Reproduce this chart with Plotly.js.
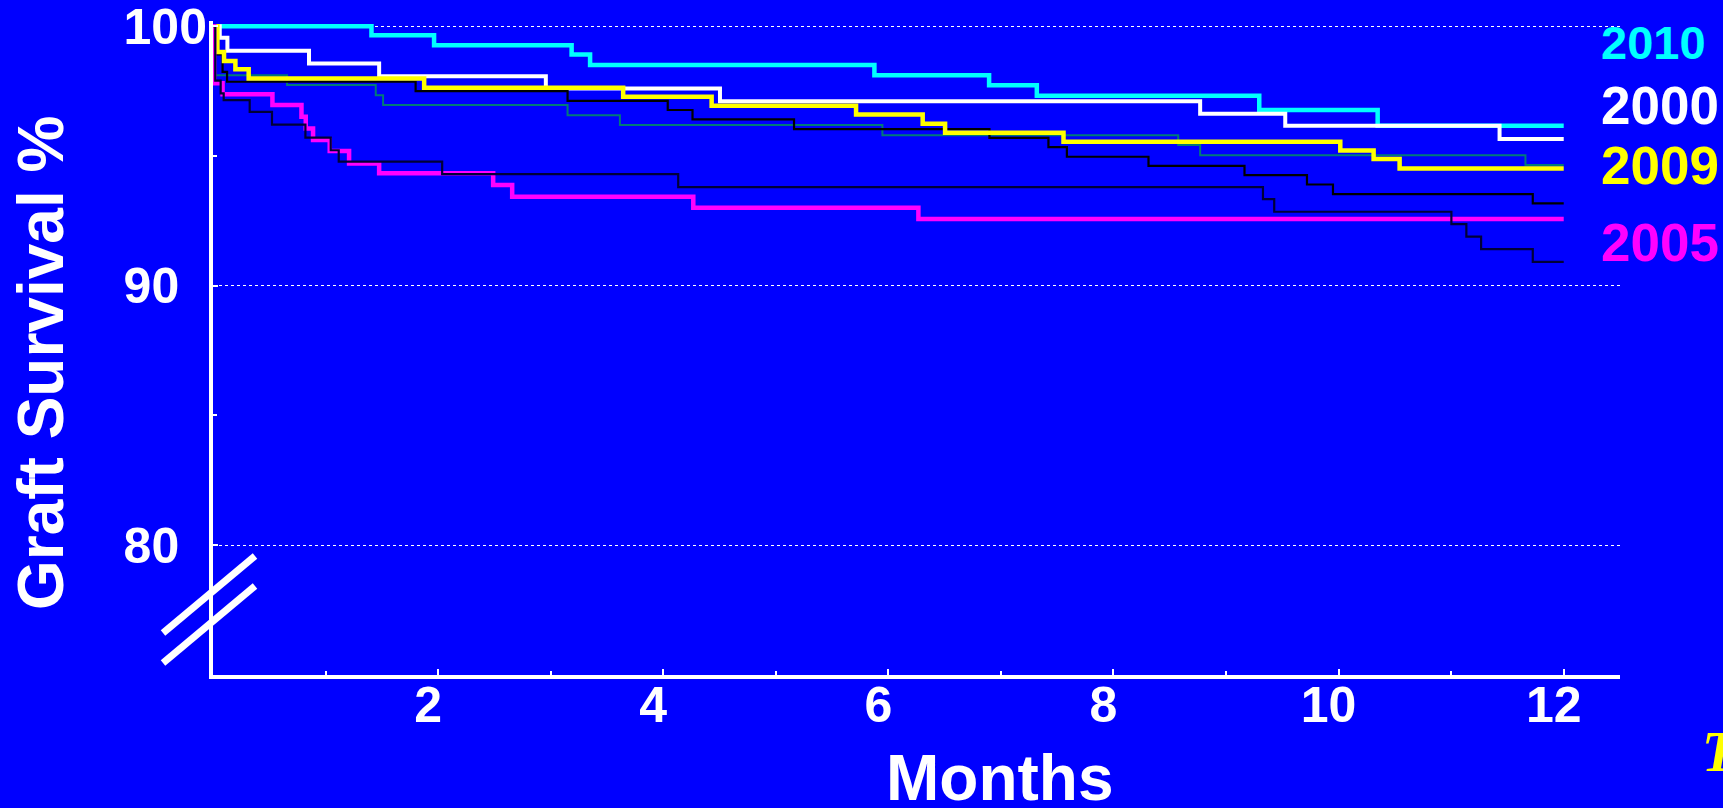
<!DOCTYPE html>
<html>
<head>
<meta charset="utf-8">
<script src="https://cdn.plot.ly/plotly-3.0.1.min.js"></script>
<style>
  html, body { margin: 0; padding: 0; background: #0000FF; }
  #chart { width: 1723px; height: 808px; }
</style>
</head>
<body>
<div id="chart"></div>
<script>
// ---- Data (months since transplant, graft survival %) ----
const months2010 = [0, 1.408, 1.964, 3.186, 3.35, 5.876, 6.895, 7.319, 9.295, 10.347, 12];
const surv2010   = [100, 99.65, 99.27, 98.91, 98.50, 98.11, 97.72, 97.32, 96.77, 96.16, 96.16];

const months2000 = [0, 0.06, 0.128, 0.853, 1.476, 2.957, 4.504, 8.77, 9.526, 11.43, 12];
const surv2000   = [100, 99.55, 99.05, 98.56, 98.07, 97.60, 97.11, 96.63, 96.16, 95.65, 95.65];

const months2009 = [0, 0.039, 0.098, 0.199, 0.317, 1.876, 3.644, 4.43, 5.713, 6.305, 6.504, 7.556, 10.015, 10.311, 10.542, 12];
const surv2009   = [100, 99.01, 98.66, 98.34, 97.98, 97.63, 97.28, 96.93, 96.60, 96.24, 95.89, 95.55, 95.21, 94.88, 94.52, 94.52];

const months2005 = [0, 0.01, 0.085, 0.528, 0.786, 0.824, 0.889, 1.037, 1.209, 1.476, 2.489, 2.658, 4.267, 6.267, 12];
const surv2005   = [100, 97.80, 97.38, 96.96, 96.51, 96.06, 95.61, 95.19, 94.71, 94.33, 93.88, 93.43, 93.00, 92.57, 92.57];

const monthsBlack = [0, 0.01, 0.085, 0.125, 1.80, 3.15, 4.04, 4.26, 5.162, 6.898, 7.422, 7.586, 8.311, 9.164, 9.719, 9.95, 11.725, 12];
const survBlack   = [100, 98.91, 98.24, 97.86, 97.50, 97.12, 96.77, 96.41, 96.03, 95.70, 95.34, 94.97, 94.62, 94.26, 93.90, 93.53, 93.17, 93.17];

const monthsTeal = [0, 0.02, 0.658, 1.446, 1.511, 3.15, 3.615, 5.947, 8.575, 8.77, 11.66, 12];
const survTeal   = [100, 98.11, 97.73, 97.34, 96.96, 96.57, 96.19, 95.80, 95.42, 95.03, 94.65, 94.65];

const monthsNavy = [0, 0.02, 0.068, 0.095, 0.326, 0.524, 0.821, 1.046, 1.117, 2.036, 4.133, 9.328, 9.428, 11.002, 11.135, 11.266, 11.725, 12];
const survNavy   = [100, 97.90, 97.41, 97.15, 96.70, 96.21, 95.71, 95.22, 94.78, 94.30, 93.80, 93.34, 92.85, 92.37, 91.89, 91.41, 90.92, 90.92];

const xTickVals = [2, 4, 6, 8, 10, 12];
const xTickText = ['2', '4', '6', '8', '10', '12'];
const xMinorVals = [1, 3, 5, 7, 9, 11];
const yTickVals = [80, 90, 100];
const yTickText = ['80\u00a0\u00a0', '90\u00a0\u00a0', '100'];
const yMinorVals = [85, 95];
const yearLabels = ['2010', '2000', '2009', '2005'];

// ---- Styles ----
const FONT = 'Liberation Sans, Arial, Helvetica, sans-serif';
const BG = '#0000FF';

function stepTrace(x, y, name, color, width) {
  return { type: 'scatter', mode: 'lines', x: x, y: y, name: name,
           line: { shape: 'hv', color: color, width: width }, hoverinfo: 'name+x+y' };
}

const traces = [
  stepTrace(monthsTeal, survTeal, 'Other (teal)', '#007A78', 2),
  stepTrace(months2010, surv2010, yearLabels[0], '#00FFFF', 4.5),
  stepTrace(months2000, surv2000, yearLabels[1], '#FFFFFF', 4),
  stepTrace(monthsBlack, survBlack, 'Other (black)', '#000000', 2.2),
  stepTrace(months2009, surv2009, yearLabels[2], '#FFFF00', 4.5),
  stepTrace(months2005, surv2005, yearLabels[3], '#FF00FF', 4.5),
  stepTrace(monthsNavy, survNavy, 'Other (navy)', '#000038', 2.2)
];

const L = 213, R = 103, T = 21, B = 133;
const PW = 1723 - L - R, PH = 808 - T - B;
function px(xp) { return (xp - L) / PW; }
function py(yp) { return (808 - B - yp) / PH; }

const labelColors = ['#00FFFF', '#FFFFFF', '#FFFF00', '#FF00FF'];
const labelY = [42, 106, 166, 243];
const labelSize = [47, 53, 53, 53];

const annotations = yearLabels.map((t, i) => ({
  text: t, xref: 'paper', yref: 'paper', x: px(1599), y: py(labelY[i]),
  xanchor: 'left', yanchor: 'middle', showarrow: false,
  font: { family: FONT, size: labelSize[i], color: labelColors[i], weight: 'bold' }
}));

annotations.push({
  text: 'Months', xref: 'paper', yref: 'paper', x: px(1000), y: py(778),
  xanchor: 'center', yanchor: 'middle', showarrow: false,
  font: { family: FONT, size: 64, color: '#FFFFFF', weight: 'bold' }
});
annotations.push({
  text: 'Graft Survival %', xref: 'paper', yref: 'paper', x: px(41), y: py(363),
  xanchor: 'center', yanchor: 'middle', textangle: -90, showarrow: false,
  font: { family: FONT, size: 64, color: '#FFFFFF', weight: 'bold' }
});
annotations.push({
  text: 'T', xref: 'paper', yref: 'paper', x: px(1700), y: py(752),
  xanchor: 'left', yanchor: 'middle', showarrow: false,
  font: { family: 'Liberation Serif, Times New Roman, serif', size: 56, color: '#FFFF00', weight: 'bold', style: 'italic' }
});

const shapes = [
  { type: 'line', xref: 'paper', yref: 'paper', x0: px(163), y0: py(633), x1: px(255), y1: py(556),
    line: { color: '#FFFFFF', width: 7 } },
  { type: 'line', xref: 'paper', yref: 'paper', x0: px(163), y0: py(663), x1: px(255), y1: py(586),
    line: { color: '#FFFFFF', width: 7 } }
];

const layout = {
  width: 1723, height: 808,
  paper_bgcolor: BG, plot_bgcolor: BG,
  margin: { l: L, r: R, t: T, b: B, pad: 0 },
  showlegend: false,
  xaxis: {
    range: [0, 12.5], showline: true, linecolor: '#FFFFFF', linewidth: 4,
    showgrid: false, zeroline: false,
    ticks: 'inside', ticklen: 6, tickwidth: 2, tickcolor: '#FFFFFF',
    tickmode: 'array', tickvals: xTickVals, ticktext: xTickText,
    ticklabelshift: -10, ticklabelstandoff: -17, ticklabeloverflow: 'allow',
    tickfont: { family: FONT, size: 50, color: '#FFFFFF', weight: 'bold' },
    minor: { tickmode: 'array', tickvals: xMinorVals, ticks: 'inside', ticklen: 4, tickwidth: 2, tickcolor: '#FFFFFF' }
  },
  yaxis: {
    range: [75, 100.2], showline: true, linecolor: '#FFFFFF', linewidth: 4,
    showgrid: true, gridcolor: '#FFFFFF', gridwidth: 1, griddash: 'dot', zeroline: false,
    ticks: 'inside', ticklen: 5, tickwidth: 2, tickcolor: '#FFFFFF',
    tickmode: 'array', tickvals: yTickVals, ticktext: yTickText,
    ticklabelstandoff: -8, ticklabeloverflow: 'allow',
    tickfont: { family: FONT, size: 50, color: '#FFFFFF', weight: 'bold' },
    minor: { tickmode: 'array', tickvals: yMinorVals, ticks: 'inside', ticklen: 4, tickwidth: 2, tickcolor: '#FFFFFF', showgrid: false }
  },
  annotations: annotations,
  shapes: shapes
};

Plotly.newPlot('chart', traces, layout, { displayModeBar: false, staticPlot: true });
</script>
</body>
</html>
